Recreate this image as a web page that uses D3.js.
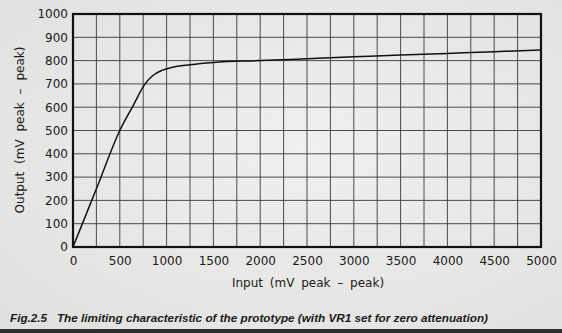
<!DOCTYPE html>
<html>
<head>
<meta charset="utf-8">
<script src="https://cdn.jsdelivr.net/npm/d3@7/dist/d3.min.js"></script>
<style>
  html, body { margin: 0; padding: 0; background: #e8e8e6; }
  svg { display: block; }
</style>
</head>
<body>
<svg id="chart" width="562" height="333"></svg>
<script>
// Limiting characteristic: output vs input, both mV peak-peak
const inputs  = [0, 250, 500, 640, 770, 850, 950, 1050, 1250, 1500, 2000, 2500, 3000, 3500, 4000, 4500, 5000];
const outputs = [0, 250, 500, 605, 700, 735, 758, 770, 782, 792, 800, 808, 816, 824, 831, 838, 846];

const xTicks = [0, 500, 1000, 1500, 2000, 2500, 3000, 3500, 4000, 4500, 5000];
const yTicks = [0, 100, 200, 300, 400, 500, 600, 700, 800, 900, 1000];
const xGrid = d3.range(0, 5001, 250);
const yGrid = d3.range(0, 1001, 100);

const xTitle = "Input (mV peak \u2013 peak)";
const yTitle = "Output (mV peak \u2013 peak)";
const caption = "Fig.2.5   The limiting characteristic of the prototype (with VR1 set for zero attenuation)";

const W = 562, H = 333;
const m = { left: 73, right: 541, top: 14, bottom: 247 };

const svg = d3.select("#chart");

// paper tone
const defs = svg.append("defs");
const grad = defs.append("radialGradient").attr("id", "paper")
  .attr("cx", "55%").attr("cy", "45%").attr("r", "75%");
grad.append("stop").attr("offset", "0%").attr("stop-color", "#f0f0ee");
grad.append("stop").attr("offset", "100%").attr("stop-color", "#e0e0de");
svg.append("rect").attr("width", W).attr("height", H).attr("fill", "url(#paper)");
svg.append("rect").attr("x", 0).attr("y", 329).attr("width", W).attr("height", 4).attr("fill", "#2e2e2e");

const x = d3.scaleLinear().domain([0, 5000]).range([m.left, m.right]);
const y = d3.scaleLinear().domain([0, 1000]).range([m.bottom, m.top]);

const font = "'DejaVu Sans', sans-serif";

// grid
const g = svg.append("g");
g.selectAll("line.vx").data(xGrid).join("line")
  .attr("x1", d => x(d)).attr("x2", d => x(d))
  .attr("y1", m.top).attr("y2", m.bottom)
  .attr("stroke", "#3a3a3a").attr("stroke-width", 0.9);
g.selectAll("line.hy").data(yGrid).join("line")
  .attr("y1", d => y(d)).attr("y2", d => y(d))
  .attr("x1", m.left).attr("x2", m.right)
  .attr("stroke", "#3a3a3a").attr("stroke-width", 0.9);

// axes (labels only; frame drawn separately)
const xAxis = d3.axisBottom(x).tickValues(xTicks).tickSize(0).tickPadding(9).tickFormat(d3.format("d"));
const yAxis = d3.axisLeft(y).tickValues(yTicks).tickSize(0).tickPadding(5).tickFormat(d3.format("d"));

const gx = svg.append("g").attr("transform", `translate(0,${m.bottom})`).call(xAxis);
const gy = svg.append("g").attr("transform", `translate(${m.left},0)`).call(yAxis);
[gx, gy].forEach(a => {
  a.select(".domain").remove();
  a.selectAll("text").attr("font-family", font).attr("font-size", 12).attr("fill", "#1a1a1a");
});

// frame
svg.append("rect")
  .attr("x", m.left).attr("y", m.top)
  .attr("width", m.right - m.left).attr("height", m.bottom - m.top)
  .attr("fill", "none").attr("stroke", "#111").attr("stroke-width", 2.2);

// curve
const pts = inputs.map((v, i) => [v, outputs[i]]);
svg.append("path").datum(pts)
  .attr("fill", "none").attr("stroke", "#111").attr("stroke-width", 1.5)
  .attr("d", d3.line().x(d => x(d[0])).y(d => y(d[1])).curve(d3.curveMonotoneX));

// titles
svg.append("text").attr("x", 308).attr("y", 287)
  .attr("text-anchor", "middle").attr("font-family", font).attr("font-size", 12)
  .attr("word-spacing", 3).attr("fill", "#1a1a1a").text(xTitle);
svg.append("text").attr("transform", "translate(24,130) rotate(-90)")
  .attr("text-anchor", "middle").attr("font-family", font).attr("font-size", 12)
  .attr("word-spacing", 4).attr("fill", "#1a1a1a").text(yTitle);

svg.append("text").attr("x", 10).attr("y", 322)
  .attr("font-family", "'Liberation Sans', Arial, sans-serif").attr("font-size", 10)
  .attr("font-weight", "bold").attr("font-style", "italic")
  .attr("textLength", 478).attr("lengthAdjust", "spacingAndGlyphs")
  .attr("xml:space", "preserve")
  .attr("fill", "#1a1a1a").text(caption);
</script>
</body>
</html>
